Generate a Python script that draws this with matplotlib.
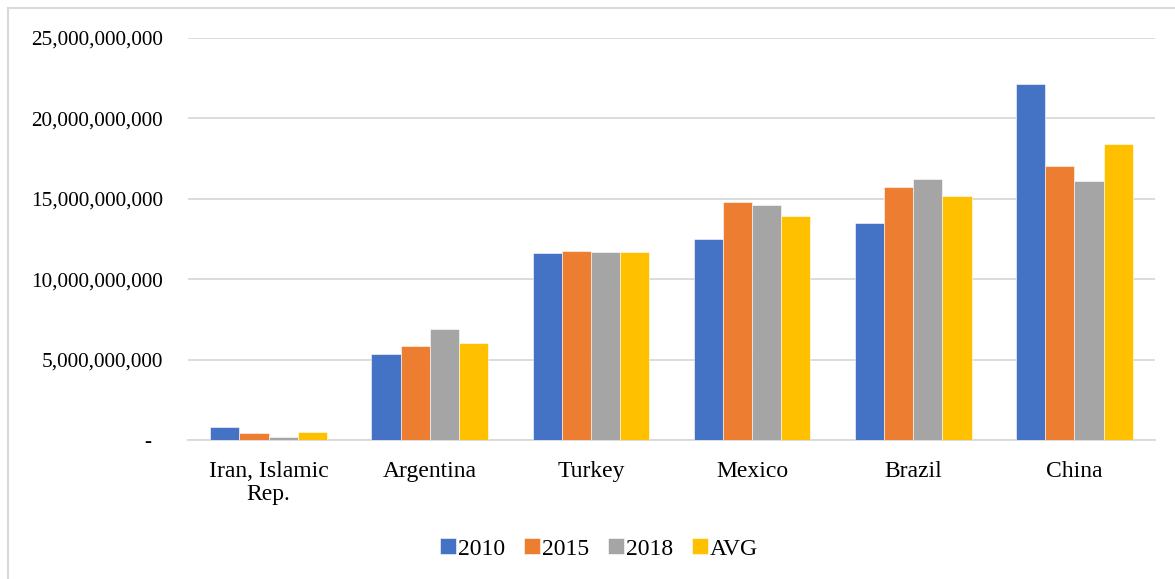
import numpy as np
import matplotlib.pyplot as plt
from matplotlib.ticker import FuncFormatter
from matplotlib.lines import Line2D

plt.rcParams['font.family'] = ['Liberation Serif', 'DejaVu Serif']

countries = ["Iran, Islamic\nRep.", "Argentina", "Turkey", "Mexico", "Brazil", "China"]
series_names = ["2010", "2015", "2018", "AVG"]
v2010 = [0.81e9, 5.35e9, 11.63e9, 12.50e9, 13.51e9, 22.14e9]
v2015 = [0.44e9, 5.85e9, 11.75e9, 14.80e9, 15.73e9, 17.04e9]
v2018 = [0.19e9, 6.90e9, 11.69e9, 14.61e9, 16.21e9, 16.10e9]
vavg = [0.47e9, 6.03e9, 11.69e9, 13.93e9, 15.15e9, 18.43e9]
colors = ["#4472C4", "#ED7D31", "#A5A5A5", "#FFC000"]

fig = plt.figure(figsize=(11.75, 5.79), dpi=100)
ax = fig.add_axes([0.16, 0.24, 0.823, 0.6944])

# light frame round the chart
fig.add_artist(Line2D([8 / 1175, 8 / 1175], [0, 1 - 8 / 579], transform=fig.transFigure,
                      color="#d9d9d9", lw=1.5))
fig.add_artist(Line2D([8 / 1175, 1], [1 - 8 / 579, 1 - 8 / 579], transform=fig.transFigure,
                      color="#d9d9d9", lw=1.5))

x = np.arange(len(countries))
w = 0.181
for i, (name, vals) in enumerate(zip(series_names, [v2010, v2015, v2018, vavg])):
    ax.bar(x + (i - 1.5) * w, vals, w, color=colors[i], label=name,
           edgecolor="white", linewidth=0.4, zorder=3)

ax.set_xlim(-0.5, len(countries) - 0.5)
ax.set_ylim(0, 25e9)
ax.set_yticks(np.arange(0, 25e9 + 1, 5e9))
ax.yaxis.set_major_formatter(FuncFormatter(lambda v, p: "-  " if v == 0 else f"{v:,.0f}"))
ax.grid(axis="y", color="#d9d9d9", linewidth=1.3, zorder=0)
ax.set_xticks(x)
ax.set_xticklabels(countries, fontsize=17, linespacing=1.15)
ax.tick_params(axis="y", length=0, pad=18, labelsize=15.3)
ax.tick_params(axis="x", length=0, pad=15)
for s in ["top", "right", "left"]:
    ax.spines[s].set_visible(False)
ax.spines["bottom"].set_color("#d9d9d9")
ax.spines["bottom"].set_linewidth(1.3)

fig.legend(loc="center", bbox_to_anchor=(0.51, 1 - 549 / 579), ncol=4, frameon=False,
           fontsize=17, handlelength=0.66, handleheight=0.66, handletextpad=0.1,
           columnspacing=0.8)

fig.savefig("out.png", dpi=100)
